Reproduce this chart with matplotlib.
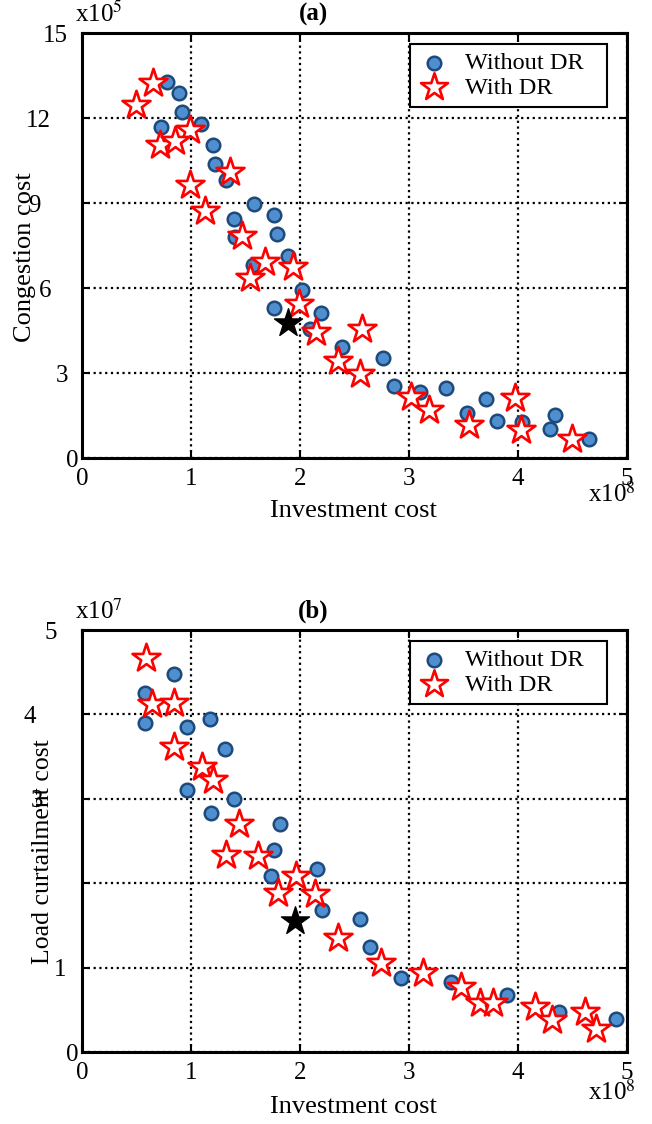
import numpy as np
import matplotlib
matplotlib.use('Agg')
import matplotlib.pyplot as plt
import matplotlib.transforms as mtransforms

plt.rcParams['font.family'] = ['Liberation Serif', 'DejaVu Serif']
plt.rcParams['mathtext.fontset'] = 'stix'

# (a) investment cost (x1e8) vs congestion cost (x1e5)
wo_a_x = [0.78, 0.89, 0.92, 0.72, 1.09, 1.20, 1.22, 1.32, 1.58, 1.39, 1.76, 1.79, 1.40, 1.89, 1.57,
          2.02, 1.76, 2.19, 2.09, 2.39, 2.76, 2.86, 3.10, 3.34, 3.53, 3.71, 3.81, 4.04, 4.34, 4.30, 4.65]
wo_a_y = [13.27, 12.88, 12.22, 11.69, 11.80, 11.06, 10.38, 9.82, 8.99, 8.46, 8.58, 7.92, 7.80, 7.15, 6.82,
          5.94, 5.31, 5.12, 4.57, 3.94, 3.55, 2.56, 2.34, 2.48, 1.59, 2.10, 1.33, 1.27, 1.52, 1.03, 0.69]
dr_a_x = [0.65, 0.49, 0.99, 0.71, 0.85, 1.36, 0.99, 1.13, 1.47, 1.68, 1.94, 1.54, 1.99, 2.15, 2.57,
          2.35, 2.55, 3.02, 3.18, 3.55, 3.97, 4.03, 4.50]
dr_a_y = [13.24, 12.47, 11.59, 11.06, 11.18, 10.12, 9.65, 8.73, 7.85, 6.92, 6.74, 6.37, 5.45, 4.47, 4.56,
          3.43, 2.97, 2.17, 1.70, 1.16, 2.12, 1.00, 0.68]
best_a = (1.89, 4.77)

# (b) investment cost (x1e8) vs load curtailment cost (x1e7)
wo_b_x = [0.84, 0.58, 0.58, 0.96, 1.17, 1.31, 0.96, 1.39, 1.18, 1.82, 1.76, 1.73, 2.16, 2.20, 2.55,
          2.64, 2.93, 3.39, 3.90, 4.38, 4.90]
wo_b_y = [4.48, 4.25, 3.90, 3.85, 3.95, 3.59, 3.11, 3.00, 2.83, 2.70, 2.39, 2.09, 2.17, 1.69, 1.58,
          1.25, 0.88, 0.83, 0.68, 0.48, 0.40]
dr_b_x = [0.59, 0.64, 0.84, 0.84, 1.10, 1.20, 1.44, 1.32, 1.61, 1.96, 1.80, 2.14, 2.35, 2.74, 3.13,
          3.48, 3.65, 3.77, 4.16, 4.31, 4.62, 4.72]
dr_b_y = [4.67, 4.12, 4.13, 3.61, 3.38, 3.22, 2.70, 2.34, 2.32, 2.09, 1.89, 1.87, 1.35, 1.06, 0.94,
          0.77, 0.58, 0.58, 0.54, 0.38, 0.48, 0.27]
best_b = (1.95, 1.55)

x_ticks = [0, 1, 2, 3, 4, 5]
a_yticks = [0, 3, 6, 9, 12, 15]
a_ylabels = ['0', '3', '6', '9', '12', '15']
b_yticks = [0, 1, 2, 3, 4, 5]
b_ylabels = ['0', '1', '', '3', '4', '5']

fig = plt.figure(figsize=(6.52, 11.24), dpi=100)
ax1 = fig.add_axes([0.1261, 0.5923, 0.8351, 0.3781])
ax2 = fig.add_axes([0.1261, 0.0638, 0.8351, 0.3757])


def draw_panel(ax, wx, wy, dx, dy, best, yticks, ylabels, ymax, ylabel, ylsize,
               title, yexp, lab_shift, lab_y, exp_y):
    ax.scatter(wx, wy, s=95, marker='o', facecolor='#4f8fcf', edgecolor='#1d4a7a',
               linewidth=1.8, zorder=3, label='Without DR')
    ax.scatter(dx, dy, s=450, marker='*', facecolor='white', edgecolor='red',
               linewidth=1.9, zorder=4, label='With DR')
    ax.scatter([best[0]], [best[1]], s=450, marker='*', color='black', zorder=5)

    ax.set_xlim(0, 5)
    ax.set_ylim(0, ymax)
    ax.set_xticks(x_ticks)
    ax.set_xticklabels([str(t) for t in x_ticks])
    ax.set_yticks(yticks)
    ax.set_yticklabels(ylabels)
    ax.tick_params(direction='in', length=6, width=1.5, top=True, right=True,
                   labelsize=18, pad=7)
    ax.grid(True, color='black', linestyle=(0, (1, 1.6)), linewidth=1.6)
    for sp in ax.spines.values():
        sp.set_linewidth(2.2)

    # the y tick labels sit at uneven distances from the axis in the original
    for lab, sh in zip(ax.get_yticklabels(), lab_shift):
        off = mtransforms.ScaledTranslation(sh / 100.0, 0, fig.dpi_scale_trans)
        lab.set_transform(lab.get_transform() + off)

    ax.set_xlabel('Investment cost', fontsize=19)
    ax.xaxis.set_label_coords(0.499, lab_y)
    ax.set_ylabel(ylabel, fontsize=ylsize)

    ax.text(-0.013, 1.045, yexp, transform=ax.transAxes, fontsize=18,
            ha='left', va='center')
    ax.text(0.425, 1.045, title, transform=ax.transAxes, fontsize=18,
            fontweight='bold', ha='center', va='center')
    ax.text(1.017, exp_y, r'x10$^8$', transform=ax.transAxes, fontsize=18,
            ha='right', va='center')

    leg = ax.legend(loc='upper left', bbox_to_anchor=(0.602, 0.0, 0.362, 0.975),
                    mode='expand', borderaxespad=0,
                    fontsize=17.5, fancybox=False, framealpha=1, edgecolor='black',
                    handlelength=1.3, handletextpad=0.6, borderpad=0.35,
                    labelspacing=0.1, scatterpoints=1)
    leg.get_frame().set_linewidth(1.5)
    hs = leg.legend_handles
    hs[0].set_sizes([95])
    hs[1].set_sizes([420])


draw_panel(ax1, wo_a_x, wo_a_y, dr_a_x, dr_a_y, best_a, a_yticks, a_ylabels, 15,
           'Congestion cost', 19, '(a)', r'x10$^5$',
           [6, -4, -21, -32, -22, -5], -0.098, -0.086)
ax1.yaxis.set_label_coords(-0.085, 0.474)

draw_panel(ax2, wo_b_x, wo_b_y, dr_b_x, dr_b_y, best_b, b_yticks, b_ylabels, 5,
           'Load curtailment cost', 18.5, '(b)', r'x10$^7$',
           [6, -6, 0, -29, -36, -15], -0.103, -0.094)
ax2.yaxis.set_label_coords(-0.052, 0.474)

plt.savefig('out.png', dpi=100)
